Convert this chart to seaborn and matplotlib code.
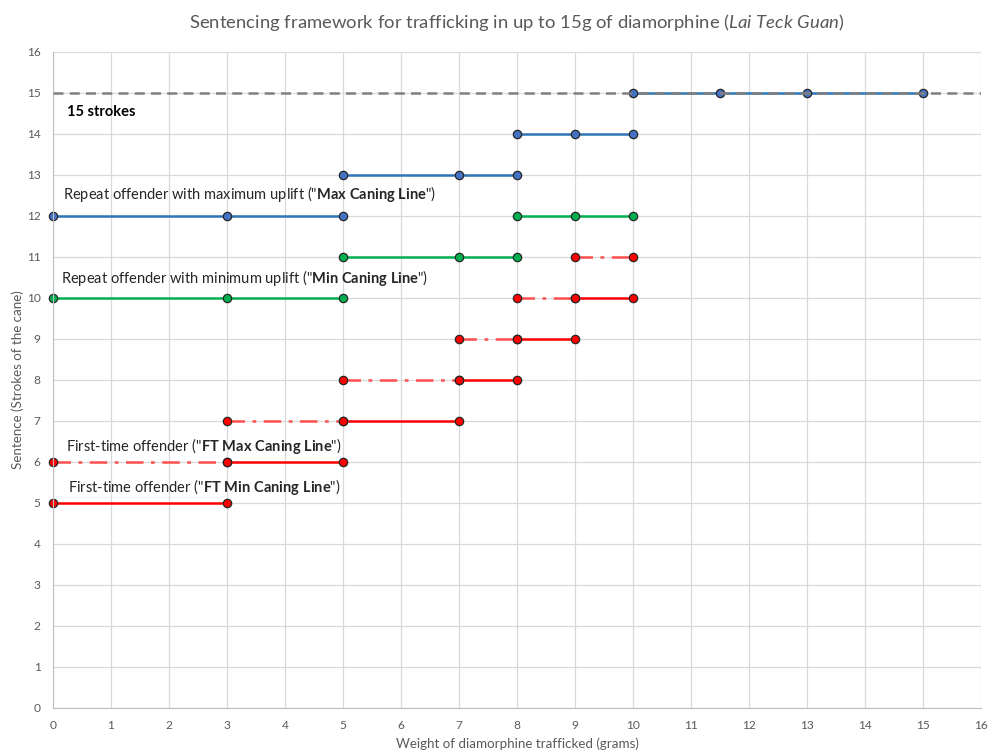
import pandas as pd
import seaborn as sns
import matplotlib.pyplot as plt

# Degraus de cada linha: pontos em x (gramas) e valor em y (golpes)
max_x = [[0, 3, 5], [5, 7, 8], [8, 9, 10], [10, 11.5, 13, 15]]
max_y = [12, 13, 14, 15]
min_x = [[0, 3, 5], [5, 7, 8], [8, 9, 10]]
min_y = [10, 11, 12]
ft_x = [[0, 3], [3, 5], [5, 7], [7, 8], [8, 9], [9, 10]]
ft_min_y = [5, 6, 7, 8, 9, 10]
ft_max_y = [6, 7, 8, 9, 10, 11]
teto = 15
ticks = list(range(0, 17))


def montar(xs, ys):
    linhas = []
    for seg, (x, y) in enumerate(zip(xs, ys)):
        for xi in x:
            linhas.append({"x": xi, "y": y, "seg": seg})
    return pd.DataFrame(linhas)


sns.set_style("white")
plt.rcParams["font.family"] = ["Lato", "DejaVu Sans"]
plt.rcParams["mathtext.fontset"] = "custom"
plt.rcParams["mathtext.rm"] = "Lato"
plt.rcParams["mathtext.bf"] = "Lato:bold"
plt.rcParams["mathtext.it"] = "Lato:italic"

fig = plt.figure(figsize=(9.89, 7.51), dpi=100)
ax = fig.add_axes([0.0536, 0.0573, 0.9382, 0.8735])

estilo = dict(marker="o", markersize=6, markeredgecolor="#262626",
              markeredgewidth=0.9, linewidth=1.8, estimator=None,
              units="seg", legend=False, ax=ax)

# linha tracejada do teto de 15 golpes
ax.axhline(teto, color="#808080", lw=1.8, dashes=(4, 2.5), zorder=3)

sns.lineplot(data=montar(ft_x, ft_max_y), x="x", y="y", color="#FF4F4F",
             markerfacecolor="#FF0000", linestyle=(0, (7, 3, 1.5, 3)),
             zorder=2, **estilo)
sns.lineplot(data=montar(ft_x, ft_min_y), x="x", y="y", color="#FF0000",
             markerfacecolor="#FF0000", zorder=2.5, **estilo)
sns.lineplot(data=montar(min_x, min_y), x="x", y="y", color="#00B050",
             markerfacecolor="#00B050", zorder=2.5, **estilo)
sns.lineplot(data=montar(max_x, max_y), x="x", y="y", color="#2E75B6",
             markerfacecolor="#4472C4", zorder=2.5, **estilo)

for ln in ax.lines[1:]:
    ln.set_clip_on(False)

ax.set_xlim(0, 16)
ax.set_ylim(0, 16)
ax.set_xticks(ticks)
ax.set_yticks(ticks)
ax.grid(True, color="#D9D9D9", lw=0.9)
ax.set_axisbelow(True)
for lado in ["top", "right"]:
    ax.spines[lado].set_visible(False)
for lado in ["left", "bottom"]:
    ax.spines[lado].set_color("#BFBFBF")
ax.tick_params(length=0, pad=9, labelsize=8.6, colors="#595959")

ax.set_xlabel("Weight of diamorphine trafficked (grams)", fontsize=9.6,
              color="#595959", labelpad=4)
ax.set_ylabel("Sentence (Strokes of the cane)", fontsize=9.6,
              color="#595959", labelpad=2)
ax.set_title(r"Sentencing framework for trafficking in up to 15g of diamorphine ($\it{Lai\ Teck\ Guan}$)",
             fontsize=13.3, color="#595959", pad=17)

ax.text(0.24, 14.54, "15 strokes", fontsize=10.5, fontweight="bold",
        va="center", color="#000000")
ax.text(0.17, 12.54, r'Repeat offender with maximum uplift ("$\bf{Max\ Caning\ Line}$")',
        fontsize=10.5, va="center")
ax.text(0.14, 10.49, r'Repeat offender with minimum uplift ("$\bf{Min\ Caning\ Line}$")',
        fontsize=10.5, va="center")
ax.text(0.22, 6.39, r'First-time offender ("$\bf{FT\ Max\ Caning\ Line}$")',
        fontsize=10.5, va="center")
ax.text(0.26, 5.39, r'First-time offender ("$\bf{FT\ Min\ Caning\ Line}$")',
        fontsize=10.5, va="center")

plt.savefig("out.png", dpi=100)
